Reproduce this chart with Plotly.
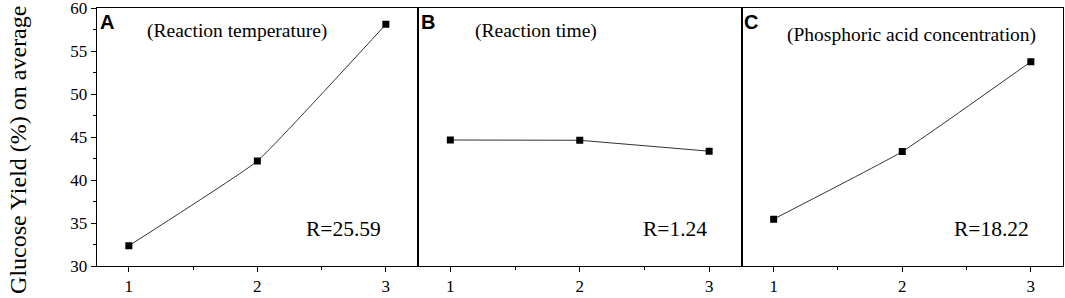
import plotly.graph_objects as go
from plotly.subplots import make_subplots

levels = [1, 2, 3]
temp_yield = [32.35, 42.2, 58.1]
time_yield = [44.65, 44.62, 43.35]
acid_yield = [35.45, 43.3, 53.75]
panel_letters = ["A", "B", "C"]
panel_titles = ["(Reaction temperature)", "(Reaction time)", "(Phosphoric acid concentration)"]
r_labels = ["R=25.59", "R=1.24", "R=18.22"]
y_title = "Glucose Yield (%) on average"

W, H = 1065, 298
fig = make_subplots(rows=1, cols=3, horizontal_spacing=0)

doms = [(96.7 / W, 418 / W), (418 / W, 741.5 / W), (741.5 / W, 1063 / W)]
series = [temp_yield, time_yield, acid_yield]
shapes = ["spline", "linear", "spline"]
title_x = [0.15, 0.17, 0.135]
title_y = [0.91, 0.91, 0.895]
r_x = [0.891, 0.9, 0.9]
serif = "Liberation Serif"

for i, ys in enumerate(series):
    fig.add_trace(go.Scatter(
        x=levels, y=ys, mode="lines+markers",
        line=dict(color="#333333", width=1, shape=shapes[i], smoothing=0.3),
        marker=dict(symbol="square", size=7, color="black"),
        showlegend=False), row=1, col=i + 1)
    xa = "xaxis" if i == 0 else f"xaxis{i+1}"
    ya = "yaxis" if i == 0 else f"yaxis{i+1}"
    fig.layout[xa].update(
        domain=list(doms[i]), range=[0.75, 3.25], tickvals=levels,
        ticks="outside", ticklen=5, tickwidth=1, tickcolor="black",
        minor=dict(tickvals=[1.5, 2.5], ticks="outside", ticklen=3, tickcolor="black"),
        showline=True, linecolor="black", linewidth=1, mirror=True,
        showgrid=False, zeroline=False, ticklabeloverflow="allow",
        tickfont=dict(family=serif, size=17, color="black"))
    fig.layout[ya].update(
        range=[30, 60], showline=True, linecolor="black", linewidth=1, mirror=True,
        showgrid=False, zeroline=False)
    if i == 0:
        fig.layout[ya].update(
            tickvals=[30, 35, 40, 45, 50, 55, 60], ticks="outside", ticklen=5,
            tickcolor="black", ticklabeloverflow="allow",
            minor=dict(dtick=2.5, ticks="outside", ticklen=3, tickcolor="black"),
            tickfont=dict(family=serif, size=17, color="black"))
    else:
        fig.layout[ya].update(showticklabels=False, ticks="")
    xr = "x" if i == 0 else f"x{i+1}"
    yr = "y" if i == 0 else f"y{i+1}"
    fig.add_annotation(x=0.003, y=0.995, xref=f"{xr} domain", yref=f"{yr} domain",
                       text=f"<b>{panel_letters[i]}</b>", showarrow=False,
                       xanchor="left", yanchor="top",
                       font=dict(family="Liberation Sans", size=20, color="black"))
    fig.add_annotation(x=title_x[i], y=title_y[i], xref=f"{xr} domain", yref=f"{yr} domain",
                       text=panel_titles[i], showarrow=False,
                       xanchor="left", yanchor="middle",
                       font=dict(family=serif, size=19.5, color="black"))
    fig.add_annotation(x=r_x[i], y=0.145, xref=f"{xr} domain", yref=f"{yr} domain",
                       text=r_labels[i], showarrow=False,
                       xanchor="right", yanchor="middle",
                       font=dict(family=serif, size=21.5, color="black"))

fig.add_annotation(x=18 / W, y=0.45, xref="paper", yref="paper",
                   text=y_title, textangle=-90, showarrow=False,
                   xanchor="center", yanchor="middle",
                   font=dict(family=serif, size=24, color="black"))

fig.update_layout(width=W, height=H, margin=dict(l=0, r=0, t=8, b=32),
                  plot_bgcolor="white", paper_bgcolor="white")
fig.write_html("out.html", config={"displayModeBar": False},
               post_script="document.body.style.margin='0';")
